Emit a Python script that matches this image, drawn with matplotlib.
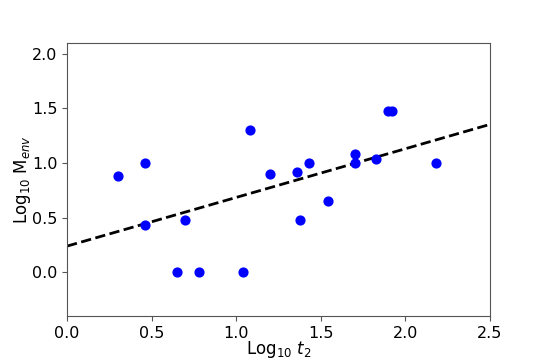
import numpy as np
import matplotlib
matplotlib.use("Agg")
import matplotlib.pyplot as plt

# log10 t2 and log10 M_env
log_t2 = [0.30, 0.46, 0.46, 0.65, 0.70, 0.78, 1.04, 1.08, 1.20, 1.36,
          1.38, 1.43, 1.54, 1.70, 1.70, 1.825, 1.90, 1.92, 2.18]
log_menv = [0.88, 1.00, 0.43, 0.00, 0.48, 0.00, 0.00, 1.30, 0.90, 0.92,
            0.48, 1.00, 0.65, 1.08, 1.00, 1.04, 1.48, 1.48, 1.00]

# fitted line
fit_intercept = 0.239
fit_slope = 0.446

plt.rcParams['font.size'] = 12

fig = plt.figure(figsize=(5.45, 3.61), dpi=100)
ax = fig.add_axes([0.123, 0.125, 0.776, 0.756])

ax.scatter(log_t2, log_menv, color='b', s=40, zorder=3)

xx = np.array([0.0, 2.5])
ax.plot(xx, fit_intercept + fit_slope * xx, 'k--', lw=2)

ax.set_xlim(0, 2.5)
ax.set_ylim(-0.4, 2.1)
ax.set_xticks([0.0, 0.5, 1.0, 1.5, 2.0, 2.5])
ax.set_yticks([0.0, 0.5, 1.0, 1.5, 2.0])
ax.tick_params(labelsize=11.5, color='#555555')
ax.set_xlabel(r'Log$_{10}$ $t_2$')
ax.set_ylabel(r'Log$_{10}$ M$_{env}$')
ax.xaxis.set_label_coords(0.5, -0.085)
ax.yaxis.set_label_coords(-0.08, 0.5)
for sp in ax.spines.values():
    sp.set_color('#555555')

fig.savefig('out.png', dpi=100)
